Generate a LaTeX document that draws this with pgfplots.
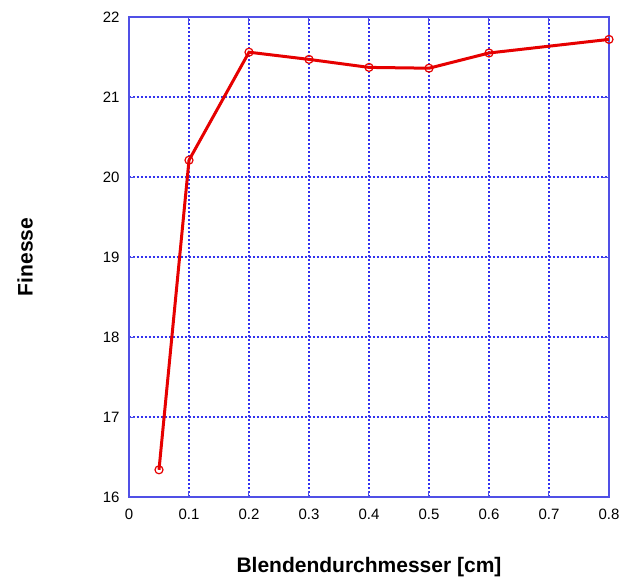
\documentclass[border=0pt]{standalone}
\usepackage{pgfplots}
\pgfplotsset{compat=1.18}
\usepackage{fontspec}
\setmainfont{Liberation Sans}
\definecolor{axblue}{RGB}{80,80,230}
\definecolor{gridblue}{RGB}{50,50,240}
\definecolor{lred}{RGB}{230,0,0}
\begin{document}
\begin{tikzpicture}
\begin{axis}[
  at={(0pt,0pt)}, anchor=south west,
  scale only axis, width=480pt, height=480pt,
  xmin=0, xmax=0.8, ymin=16, ymax=22,
  xtick={0,0.1,...,0.8}, ytick={16,17,...,22},
  xticklabels={0,0.1,0.2,0.3,0.4,0.5,0.6,0.7,0.8},
  yticklabels={16,17,18,19,20,21,22},
  axis line style={draw=axblue, line width=1.3pt},
  tick align=inside, tick pos=both, major tick length=6pt,
  major tick style={line width=1pt, axblue},
  xmajorgrids=true, ymajorgrids=true,
  major grid style={line width=1.4pt, gridblue, dash pattern=on 2pt off 2pt},
  ticklabel style={font=\fontsize{15}{15}\selectfont},
  xticklabel style={yshift=-8pt},
  yticklabel style={xshift=-6pt},
  xlabel={\textbf{Blendendurchmesser [cm]}},
  ylabel={\textbf{Finesse}},
  label style={font=\fontsize{21}{21}\selectfont},
  xlabel style={at={(axis description cs:0.5,0)}, anchor=center, yshift=-70pt},
  ylabel style={at={(axis description cs:0,0.5)}, anchor=center, rotate=0, yshift=104pt},
  clip=false,
]
\addplot[lred, line width=3pt, mark=o, mark size=4pt, mark options={line width=1.2pt, solid}]
coordinates {
(0.05,16.34)
(0.1,20.21)
(0.2,21.56)
(0.3,21.47)
(0.4,21.37)
(0.5,21.36)
(0.6,21.55)
(0.8,21.72)
};
\end{axis}
\pgfresetboundingbox
\path (-129pt,-89pt) rectangle (494pt,497pt);
\end{tikzpicture}
\end{document}
